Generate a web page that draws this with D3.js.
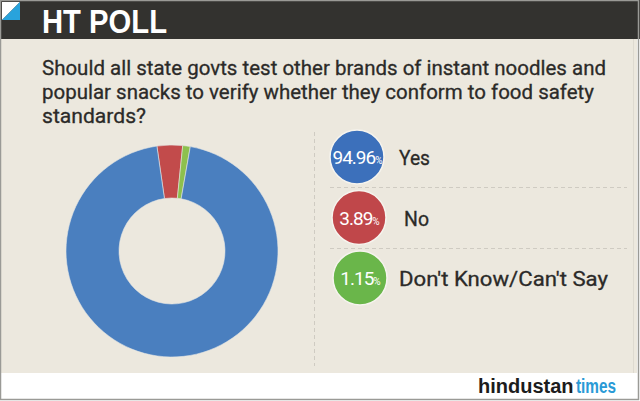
<!DOCTYPE html>
<meta charset="utf-8">
<script src="https://d3js.org/d3.v7.min.js"></script>
<style>
  body { margin: 0; background: #fff; }
  svg { display: block; }
</style>
<div id="chart"></div>
<script>
// poll answers, share in percent
var answers = ["Yes", "No", "Don't Know/Can't Say"];
var shares = [94.96, 3.89, 1.15];
var labels = ["94.96", "3.89", "1.15"];
var ringColors = ["#4a7fbf", "#c24b4b", "#8dc04d"];
var dotColors = ["#3c70bb", "#c0474a", "#6ab64a"];

var question = [
  "Should all state govts test other brands of instant noodles and",
  "popular snacks to verify whether they conform to food safety",
  "standards?"
];

var width = 640, height = 401;

var svg = d3.select("#chart").append("svg")
  .attr("width", width)
  .attr("height", height);

// panel backgrounds
svg.append("rect").attr("width", width).attr("height", height).attr("fill", "#fff");
svg.append("rect").attr("x", 0).attr("y", 38).attr("width", 637).attr("height", 335).attr("fill", "#ece8de");
svg.append("rect").attr("x", 0).attr("y", 0).attr("width", 640).attr("height", 39).attr("fill", "#33322f");
// frame
svg.append("rect").attr("x", 0.5).attr("y", 0.5).attr("width", 638).attr("height", 399)
  .attr("fill", "none").attr("stroke", "#9a9a96").attr("stroke-width", 1.5);
svg.append("line").attr("x1", 633.5).attr("x2", 633.5).attr("y1", 39).attr("y2", 373)
  .attr("stroke", "#dedad0").attr("stroke-width", 1);

// corner flag
svg.append("path").attr("d", "M2,2 L20,2 L2,20 Z").attr("fill", "#ffffff");
svg.append("path").attr("d", "M20,2 L20,20 L2,20 Z").attr("fill", "#29a3dc");

svg.append("text")
  .attr("x", 42).attr("y", 33)
  .attr("font-family", "Liberation Sans, Arial, sans-serif")
  .attr("font-weight", "bold")
  .attr("font-size", 34)
  .attr("fill", "#fff")
  .attr("textLength", 125)
  .attr("lengthAdjust", "spacingAndGlyphs")
  .text("HT POLL");

var qWidths = [564, 552, 104];
svg.append("g").selectAll("text")
  .data(question)
  .join("text")
  .attr("x", 42)
  .attr("y", function (d, i) { return 75 + i * 24; })
  .attr("font-family", "Roboto, sans-serif")
  .attr("font-size", 21)
  .attr("fill", "#2b2a28")
  .attr("stroke", "#2b2a28")
  .attr("stroke-width", 0.3)
  .attr("textLength", function (d, i) { return qWidths[i]; })
  .attr("lengthAdjust", "spacingAndGlyphs")
  .text(function (d) { return d; });

// donut: drawn starting with "No", then "Don't Know", then "Yes"
var order = [1, 2, 0];
var pieData = d3.pie()
  .sort(null)
  .value(function (i) { return shares[i]; })
  .startAngle(-8.2 * Math.PI / 180)
  .endAngle((360 - 8.2) * Math.PI / 180)
  (order);

var arc = d3.arc().innerRadius(53).outerRadius(106);

svg.append("g")
  .attr("transform", "translate(172,251)")
  .selectAll("path")
  .data(pieData)
  .join("path")
  .attr("d", arc)
  .attr("fill", function (d) { return ringColors[d.data]; })
  .attr("stroke", "#e4e6e4")
  .attr("stroke-width", 0.6);

// legend area
svg.append("line")
  .attr("x1", 314.5).attr("x2", 314.5).attr("y1", 132).attr("y2", 366)
  .attr("stroke", "#cfcbc2").attr("stroke-dasharray", "4,3");

var rowY = d3.scalePoint().domain(answers).range([157, 278]);

svg.append("g").selectAll("line")
  .data([187.5, 248.5])
  .join("line")
  .attr("x1", 330).attr("x2", 627)
  .attr("y1", function (d) { return d; }).attr("y2", function (d) { return d; })
  .attr("stroke", "#cfcbc2").attr("stroke-dasharray", "4,3");

var rows = svg.append("g").selectAll("g")
  .data(answers)
  .join("g")
  .attr("transform", function (d, i) { return "translate(" + [357, 359, 360][i] + "," + rowY(d) + ")"; });

rows.append("circle")
  .attr("r", 27)
  .attr("fill", function (d, i) { return dotColors[i]; })
  .attr("stroke", "#f6f4ee")
  .attr("stroke-width", 1.5);

var pct = rows.append("text")
  .attr("y", 7)
  .attr("text-anchor", "middle")
  .attr("font-family", "Roboto, sans-serif")
  .attr("fill", "#fff")
  .attr("font-size", 19)
  .attr("letter-spacing", -1);
pct.append("tspan").text(function (d, i) { return labels[i]; });
pct.append("tspan").attr("font-size", 10).text("%");

rows.append("text")
  .attr("x", function (d, i) { return [42, 45, 39][i]; })
  .attr("y", 8)
  .attr("font-family", "Roboto, sans-serif")
  .attr("font-size", 21)
  .attr("fill", "#2b2a28")
  .attr("stroke", "#2b2a28")
  .attr("stroke-width", 0.3)
  .attr("textLength", function (d, i) { return [31, 25, 209][i]; })
  .attr("lengthAdjust", "spacingAndGlyphs")
  .text(function (d) { return d; });

// footer logo
svg.append("text")
  .attr("x", 478).attr("y", 393)
  .attr("font-family", "Liberation Sans, Arial, sans-serif")
  .attr("font-weight", "bold")
  .attr("font-size", 20)
  .attr("fill", "#1c1c1c")
  .text("hindustan");
svg.append("text")
  .attr("x", 576).attr("y", 393)
  .attr("font-family", "Liberation Sans, Arial, sans-serif")
  .attr("font-weight", "bold")
  .attr("font-size", 20)
  .attr("fill", "#2a9ad6")
  .attr("textLength", 40)
  .attr("lengthAdjust", "spacingAndGlyphs")
  .text("times");
</script>
